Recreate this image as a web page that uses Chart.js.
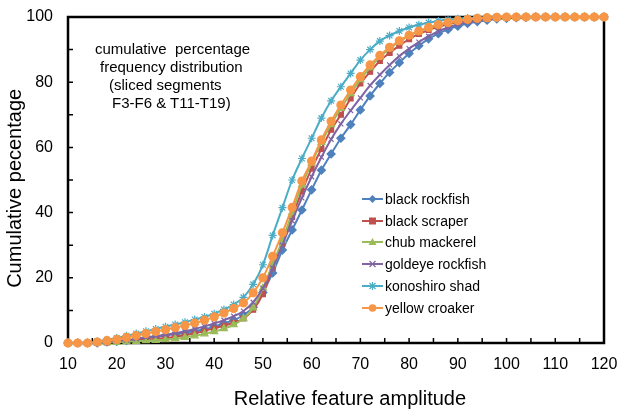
<!DOCTYPE html>
<html><head><meta charset="utf-8">
<script src="https://cdn.jsdelivr.net/npm/chart.js@4.4.1/dist/chart.umd.min.js"></script>
<style>
html,body{margin:0;padding:0;background:#fff;}
#wrap{position:relative;width:620px;height:411px;overflow:hidden;}
canvas{position:absolute;left:0;top:0;}
.note{position:absolute;font:15px "Liberation Sans",Arial,sans-serif;color:#000;white-space:pre;line-height:18px;}
#legend{position:absolute;left:362px;top:188px;font:14px "Liberation Sans",Arial,sans-serif;color:#000;}
.li{height:21.8px;display:flex;align-items:center;white-space:nowrap;}
.li svg{margin-right:2px;flex:none;}
</style></head>
<body><div id="wrap"><canvas id="c" width="620" height="411"></canvas>
<div class="note" style="left:95px;top:40px">cumulative  percentage</div>
<div class="note" style="left:100px;top:58px">frequency distribution</div>
<div class="note" style="left:109px;top:76px">(sliced segments</div>
<div class="note" style="left:112px;top:94px">F3-F6 &amp; T11-T19)</div>
<div id="legend"></div></div>
<script>
const xValues = [10,12,14,16,18,20,22,24,26,28,30,32,34,36,38,40,42,44,46,48,50,52,54,56,58,60,62,64,66,68,70,72,74,76,78,80,82,84,86,88,90,92,94,96,98,100,102,104,106,108,110,112,114,116,118,120];
const seriesNames = ['black rockfish','black scraper','chub mackerel','goldeye rockfish','konoshiro shad','yellow croaker'];
const blackRockfish = [0,0,0,0,0.3,0.5,0.8,1.1,1.5,1.9,2.3,2.7,3.1,3.6,4.2,5.0,6.0,7.0,8.5,11.0,15.5,21.5,28.5,34.7,40.8,47.0,53.0,58.0,62.8,67.0,71.5,75.8,79.6,83.0,86.0,88.8,91.2,93.3,94.9,96.2,97.2,98.0,98.6,99.0,99.4,99.6,99.8,99.9,100,100,100,100,100,100,100,100];
const blackScraper = [0,0,0,0,0.2,0.4,0.6,0.8,1.0,1.2,1.5,1.9,2.4,3.0,3.7,4.5,5.3,6.2,7.5,10.2,15.0,23.0,30.5,38.7,46.5,53.5,59.5,65.4,70.0,75.0,79.6,83.2,86.5,89.0,91.2,93.2,94.8,96.0,97.0,97.8,98.4,98.9,99.2,99.5,99.7,99.8,99.9,100,100,100,100,100,100,100,100,100];
const chubMackerel = [0,0,0,0,0.1,0.2,0.4,0.5,0.7,0.8,1.0,1.3,1.7,2.2,2.8,3.5,4.4,5.6,7.5,10.8,16.8,24.2,31.5,40.0,48.5,55.2,61.5,67.0,72.0,76.5,80.8,84.5,87.7,90.3,92.4,94.2,95.6,96.7,97.6,98.3,98.8,99.2,99.5,99.7,99.8,99.9,100,100,100,100,100,100,100,100,100,100];
const goldeyeRockfish = [0,0,0,0,0.3,0.6,0.9,1.3,1.7,2.1,2.5,3.0,3.6,4.3,5.1,6.0,7.0,8.2,9.8,12.5,16.8,23.0,30.0,37.5,44.5,51.0,57.0,62.5,67.2,71.3,75.2,79.0,82.3,85.3,88.0,90.3,92.3,94.1,95.6,96.8,97.7,98.4,98.9,99.3,99.6,99.8,99.9,100,100,100,100,100,100,100,100,100];
const konoshiroShad = [0,0,0,0.5,1.0,1.5,2.2,2.9,3.6,4.3,5.0,5.7,6.4,7.2,8.0,9.0,10.3,11.8,14.0,18.0,24.0,33.0,41.5,50.0,56.6,62.8,69.0,74.3,78.6,82.7,86.8,90.0,92.6,94.3,95.7,96.8,97.6,98.3,98.8,99.2,99.5,99.7,99.8,99.9,100,100,100,100,100,100,100,100,100,100,100,100];
const yellowCroaker = [0,0,0,0.3,0.7,1.1,1.7,2.3,2.9,3.5,4.1,4.7,5.4,6.1,7.0,8.0,9.2,10.6,12.3,15.4,20.0,26.6,33.8,41.6,49.7,55.8,62.3,68.0,73.0,77.6,81.7,85.3,88.2,90.7,92.7,94.4,95.7,96.8,97.7,98.3,98.9,99.3,99.6,99.8,99.9,100,100,100,100,100,100,100,100,100,100,100];
const seriesValues = [blackRockfish, blackScraper, chubMackerel, goldeyeRockfish, konoshiroShad, yellowCroaker];
const xTickStep = 10, yTickStep = 20;

const colors = ['#4F81BD','#C0504D','#9BBB59','#8064A2','#4BACC6','#F79646'];
const shapes = ['rectRot','rect','triangle','crossRot','star','circle'];
const radii = [4,3.5,4,3.5,4,4];

Chart.defaults.font.family = '"Liberation Sans", Arial, sans-serif';
Chart.defaults.color = '#000';

const frame = {
  id: 'frame',
  beforeDatasetsDraw(chart) {
    const {ctx, chartArea: a, scales: {x, y}} = chart;
    ctx.save();
    ctx.strokeStyle = '#000';
    ctx.lineWidth = 1.5;
    ctx.beginPath();
    for (let v = x.min; v <= x.max; v += 5) {
      const px = x.getPixelForValue(v);
      ctx.moveTo(px, a.bottom); ctx.lineTo(px, a.bottom - 5);
    }
    for (let v = y.min; v <= y.max; v += 10) {
      const py = y.getPixelForValue(v);
      ctx.moveTo(a.left, py); ctx.lineTo(a.left + 5, py);
    }
    ctx.stroke();
    ctx.lineWidth = 2.5;
    ctx.strokeRect(a.left, a.top, a.right - a.left, a.bottom - a.top);
    ctx.restore();
  }
};

const datasets = seriesNames.map((name, i) => ({
  label: name,
  data: xValues.map((xv, j) => ({x: xv, y: seriesValues[i][j]})),
  borderColor: colors[i],
  backgroundColor: colors[i],
  pointBackgroundColor: colors[i],
  pointBorderColor: colors[i],
  pointStyle: shapes[i],
  pointRadius: radii[i],
  pointBorderWidth: 1.2,
  borderWidth: 2,
  tension: 0.3,
  clip: false,
  order: seriesNames.length - i
}));

new Chart(document.getElementById('c'), {
  type: 'line',
  data: {datasets},
  plugins: [frame],
  options: {
    responsive: false,
    animation: false,
    layout: {padding: {top: 17, right: 16, left: 0, bottom: 0}},
    plugins: {legend: {display: false}, tooltip: {enabled: false}},
    scales: {
      x: {
        type: 'linear', min: 10, max: 120,
        afterFit(s) { s.height = 68; s.paddingLeft = 0; s.paddingRight = 0; },
        grid: {display: false, drawTicks: false},
        border: {display: false},
        ticks: {stepSize: xTickStep, font: {size: 16}, color: '#000', padding: 12, maxRotation: 0, autoSkip: false},
        title: {display: true, text: '     Relative feature amplitude', font: {size: 20}, color: '#000', padding: {top: 0, bottom: 0}}
      },
      y: {
        min: 0, max: 100,
        afterFit(s) { s.width = 68; s.paddingTop = 0; s.paddingBottom = 0; },
        grid: {display: false, drawTicks: false},
        border: {display: false},
        ticks: {stepSize: yTickStep, font: {size: 16}, color: '#000', padding: 15},
        title: {display: true, text: 'Cumulative pecentage   ', font: {size: 20}, color: '#000', padding: {top: 3, bottom: 0}}
      }
    }
  }
});

// legend
const svgShape = (i, c) => {
  const cx = 10.5, cy = 6;
  switch (shapes[i]) {
    case 'rectRot': return `<polygon points="${cx},${cy-4} ${cx+4},${cy} ${cx},${cy+4} ${cx-4},${cy}" fill="${c}"/>`;
    case 'rect': return `<rect x="${cx-3.5}" y="${cy-3.5}" width="7" height="7" fill="${c}"/>`;
    case 'triangle': return `<polygon points="${cx},${cy-4} ${cx+4},${cy+3} ${cx-4},${cy+3}" fill="${c}"/>`;
    case 'crossRot': return `<path d="M${cx-3},${cy-3}L${cx+3},${cy+3}M${cx+3},${cy-3}L${cx-3},${cy+3}" stroke="${c}" stroke-width="1.2"/>`;
    case 'star': return `<path d="M${cx-3},${cy-3}L${cx+3},${cy+3}M${cx+3},${cy-3}L${cx-3},${cy+3}M${cx},${cy-4}L${cx},${cy+4}" stroke="${c}" stroke-width="1.2"/>`;
    default: return `<circle cx="${cx}" cy="${cy}" r="3.8" fill="${c}"/>`;
  }
};
document.getElementById('legend').innerHTML = seriesNames.map((n, i) =>
  `<div class="li"><svg width="21" height="12"><line x1="0" y1="6" x2="21" y2="6" stroke="${colors[i]}" stroke-width="2"/>${svgShape(i, colors[i])}</svg>${n}</div>`
).join('');
</script>
</body></html>
